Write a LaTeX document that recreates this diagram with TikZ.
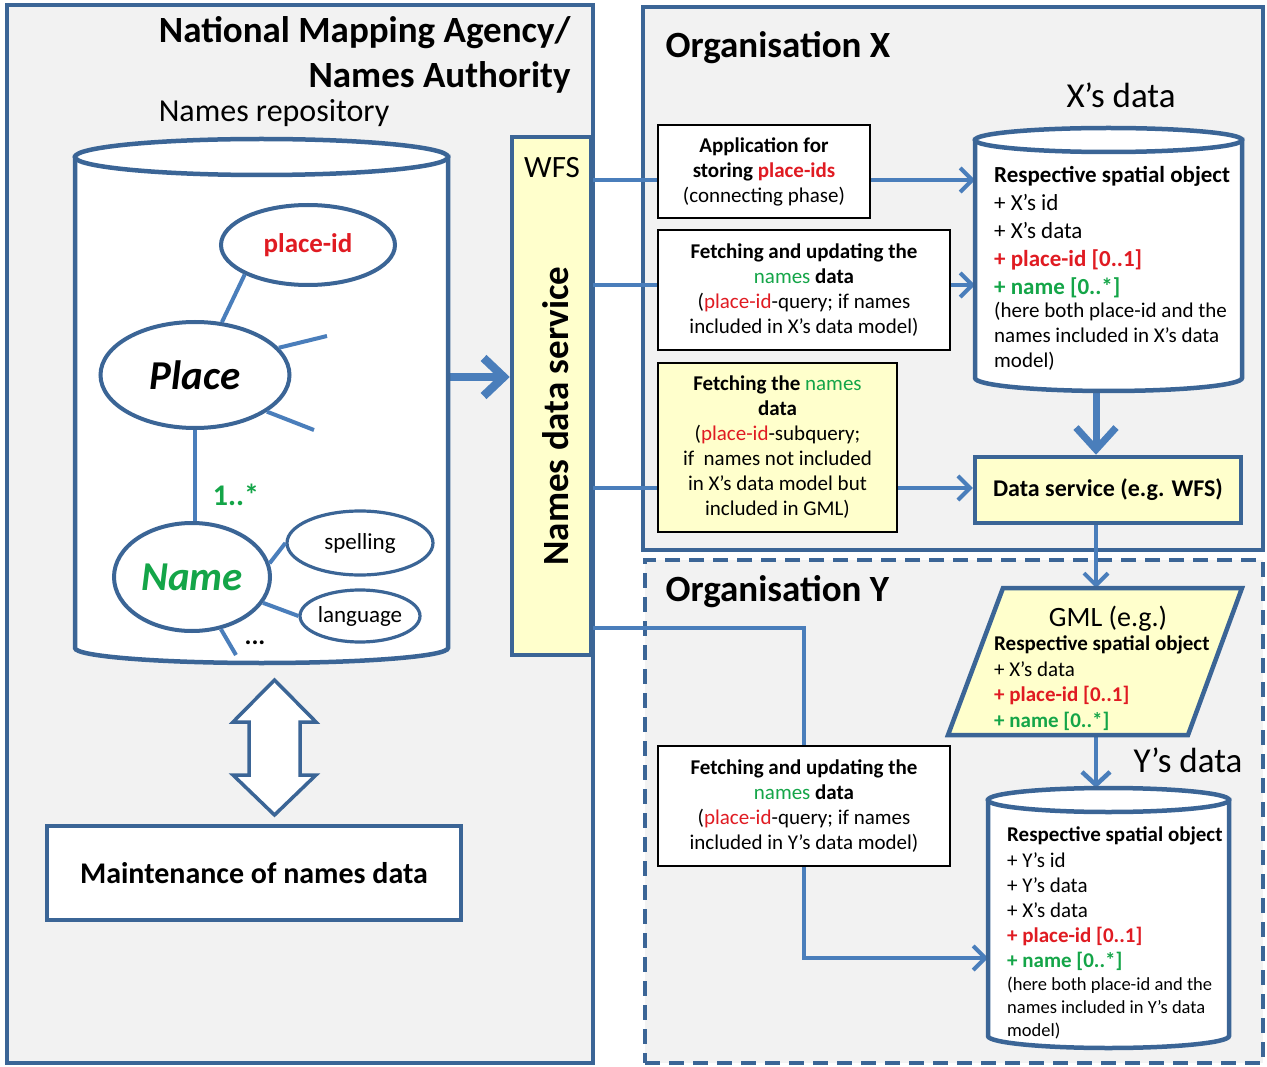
\documentclass[tikz,border=0pt]{standalone}
\usepackage{fontspec}
\setmainfont{Carlito}
\usetikzlibrary{shapes.geometric,arrows.meta,calc}
\definecolor{bord}{HTML}{3B6596}
\definecolor{conn}{HTML}{4A7EBB}
\definecolor{myred}{HTML}{E01B22}
\definecolor{mygreen}{HTML}{14A548}
\definecolor{myyellow}{HTML}{FFFFCC}
\definecolor{mygray}{HTML}{F2F2F2}
\pgfdeclarelayer{back}\pgfdeclarelayer{mid}
\pgfsetlayers{back,mid,main}
\newcommand\setfs[2]{\fontsize{#1}{#2}\selectfont}
\newcommand\mycyl[6]{%
  \pgfmathsetmacro\cxa{(#1+#2)/2}\pgfmathsetmacro\rxa{(#2-#1)/2}%
  \filldraw[cylst] (#1,#3) -- (#1,#5) arc[start angle=180,end angle=0,x radius=\rxa,y radius=#6] -- (#2,#3) -- cycle;
  \filldraw[cylst] (\cxa,#3) ellipse[x radius=\rxa, y radius=#4];
}
\begin{document}
\begin{tikzpicture}[x=1pt,y=-1pt,
  panel/.style={draw=bord,line width=4.5pt,fill=mygray,inner sep=0pt},
  inv/.style={inner sep=0pt,outer sep=0pt},
  cylst/.style={draw=bord,line width=4.5pt,fill=white},
  ell/.style={ellipse,draw=bord,line width=4pt,fill=white,inner sep=0pt},
  txtbox/.style={draw=black,line width=2.3pt,fill=white,align=center,inner sep=0pt,font=\setfs{21}{25}},
  bluebox/.style={draw=bord,line width=4.5pt,inner sep=0pt,align=center},
  link/.style={draw=conn,line width=4pt},
  arrow/.style={link,-{Straight Barb[length=12pt,width=24pt]}},
  midarrow/.style={draw=conn,line width=4.5pt,-{Straight Barb[length=13pt,width=28pt]}},
  bigarrow/.style={draw=conn,line width=7pt,-{Straight Barb[length=22pt,width=40pt]}},
  hugearrow/.style={draw=conn,line width=8.5pt,-{Straight Barb[length=20pt,width=38pt]}},
  ttl/.style={font=\setfs{37}{44}\bfseries}
]
\useasboundingbox (0,0) rectangle (1267,1067);

\begin{pgfonlayer}{back}
\node[panel,minimum width=586pt,minimum height=1058pt] (nma) at (300,534) {};
\node[panel,minimum width=620pt,minimum height=543pt] (orgx) at (953,278.5) {};
\node[panel,dash pattern=on 15pt off 9pt,minimum width=618pt,minimum height=503pt] (orgy) at (954,811.5) {};
\end{pgfonlayer}

% titles
\node[ttl,anchor=base east] (t1) at (574,43) {National Mapping Agency/};
\node[ttl,anchor=base east] (t2) at (574,88) {Names Authority};
\node[anchor=base,font=\setfs{32}{38}] (repolabel) at (274,122) {Names repository};
\node[ttl,anchor=base west] (tx) at (662,58) {Organisation X};
\node[ttl,anchor=base west] (ty) at (662,601) {Organisation Y};
\node[anchor=base,font=\setfs{35}{40}] (xlabel) at (1121,108) {X’s data};
\node[anchor=base,font=\setfs{35}{40}] (ylabel) at (1188,772) {Y’s data};

% names repository
\node[inv,minimum width=373pt,minimum height=506pt] (repo) at (261.5,410) {};
\mycyl{75}{448}{157}{18}{648}{15}
\node[ell,minimum width=174pt,minimum height=80pt,font=\setfs{27}{30}\bfseries,text=myred] (pid) at (308,245) {place-id};
\node[ell,minimum width=189pt,minimum height=106pt,font=\setfs{41}{46}\bfseries\itshape] (place) at (195,375) {Place};
\node[ell,minimum width=156pt,minimum height=108pt,font=\setfs{41}{46}\bfseries\itshape,text=mygreen] (name) at (192,577) {Name};
\node[ell,minimum width=146pt,minimum height=64pt,line width=3.2pt,font=\setfs{23}{26}] (spell) at (360,543) {spelling};
\node[ell,minimum width=120pt,minimum height=52pt,line width=3.2pt,font=\setfs{23}{26}] (lang) at (360,616) {language};
\node[font=\setfs{30}{34}\bfseries,text=mygreen] (mult) at (236,495) {1..*};
\node[font=\setfs{26}{28}\bfseries] (dots) at (255,643) {...};
\coordinate (sp1) at (327,336);
\coordinate (sp2) at (314,430);
\coordinate (sp3) at (236,655);
\draw[link] (pid.205) -- (place.63);
\draw[link] (place.18) -- (sp1);
\draw[link] (place.-27) -- (sp2);
\draw[link] (place.south) -- (place.south |- name.north);
\draw[link] (name.10) -- (spell.west);
\draw[link] (name.-20) -- (lang.west);
\draw[link] (name.-61) -- (sp3);

% names data service bar
\node[bluebox,fill=myyellow,minimum width=79pt,minimum height=518pt] (bar) at (551.5,396) {};
\node[anchor=base,font=\setfs{31}{36}] (wfs) at (552,178) {WFS};
\node[rotate=90,font=\setfs{37}{44}\bfseries] (nds) at (556,416) {Names data service};

% maintenance
\node[bluebox,fill=white,minimum width=414pt,minimum height=94pt,font=\setfs{30}{36}\bfseries] (maint) at (254,873) {Maintenance of names data};
\coordinate (dbl) at (274.5,747.5);
\filldraw[draw=bord,line width=3.5pt,fill=white,shift={(dbl)}] (0,-67.5) -- (41.5,-25.5) -- (25.5,-25.5) -- (25.5,27.5) -- (41.5,27.5) -- (0,67.5) -- (-41.5,27.5) -- (-25.5,27.5) -- (-25.5,-25.5) -- (-41.5,-25.5) -- cycle;

% organisation X
\node[txtbox,minimum width=212pt,minimum height=93pt] (boxA) at (764,171.5) {\textbf{Application for}\\\textbf{storing \textcolor{myred}{place-ids}}\\(connecting phase)};
\node[txtbox,minimum width=292pt,minimum height=120pt] (boxB) at (804,290) {\textbf{Fetching and updating the}\\\textcolor{mygreen}{names} \textbf{data}\\(\textcolor{myred}{place-id}-query; if names\\included in X’s data model)};
\node[txtbox,fill=myyellow,minimum width=239pt,minimum height=169pt] (boxC) at (777.5,447.5) {\textbf{Fetching the} \textcolor{mygreen}{names}\\\textbf{data}\\(\textcolor{myred}{place-id}-subquery;\\if\ \ names not included\\in X’s data model but\\included in GML)};

\node[inv,minimum width=267pt,minimum height=264pt] (xdata) at (1108.5,260) {};
\mycyl{975}{1242}{140}{12}{378}{13}
\node[anchor=north west,align=left,inner sep=0pt,font=\setfs{23}{28}] (xtx) at (994,166) {\textbf{Respective spatial object}\\+ X’s id\\+ X’s data\\\textcolor{myred}{\textbf{+ place-id [0..1]}}\\\textcolor{mygreen}{\textbf{+ name [0..*]}}};
\node[anchor=north west,align=left,inner sep=0pt,font=\setfs{21}{25}] (xnote) at (994,302) {(here both place-id and the\\names included in X’s data\\model)};

\node[bluebox,fill=myyellow,minimum width=266pt,minimum height=66pt,font=\setfs{24}{28}\bfseries] (dsvc) at (1108,490) {Data service (e.g. WFS)};

% organisation Y
\node[inv,minimum width=180pt,minimum height=147pt] (gml) at (1096,661.5) {};
\filldraw[draw=bord,line width=4.5pt,fill=myyellow] (1003,588) -- (1242,588) -- (1188,735) -- (948,735) -- cycle;
\node[anchor=base,font=\setfs{28}{32}] (gmlt) at (1108,626) {GML (e.g.)};
\node[anchor=north west,align=left,inner sep=0pt,font=\setfs{21}{25.5}] (gmltx) at (994,636) {\textbf{Respective spatial object}\\+ X’s data\\\textcolor{myred}{\textbf{+ place-id [0..1]}}\\\textcolor{mygreen}{\textbf{+ name [0..*]}}};

\node[txtbox,minimum width=292pt,minimum height=120pt] (boxY) at (804,806) {\textbf{Fetching and updating the}\\\textcolor{mygreen}{names} \textbf{data}\\(\textcolor{myred}{place-id}-query; if names\\included in Y’s data model)};

\node[inv,minimum width=241pt,minimum height=260pt] (ydata) at (1108.5,918) {};
\mycyl{988}{1229}{800}{12}{1036}{12}
\node[anchor=north west,align=left,inner sep=0pt,font=\setfs{21}{25.2}] (ytx) at (1007,827) {\textbf{Respective spatial object}\\+ Y’s id\\+ Y’s data\\+ X’s data\\\textcolor{myred}{\textbf{+ place-id [0..1]}}\\\textcolor{mygreen}{\textbf{+ name [0..*]}}};
\node[anchor=north west,align=left,inner sep=0pt,font=\setfs{18.5}{23}] (ynote) at (1007,977) {(here both place-id and the\\names included in Y’s data\\model)};

% connectors
\begin{pgfonlayer}{mid}
\coordinate (r1) at ([yshift=33pt]repo.east);
\draw[hugearrow] (r1) -- (r1 -| bar.west);
\coordinate (a1) at ([yshift=-8.5pt]boxA.west);
\coordinate (a2) at ([yshift=-8.5pt]boxA.east);
\draw[link] (a1 -| bar.east) -- (a1);
\draw[arrow] (a2) -- (a2 -| xdata.west);
\coordinate (b1) at ([yshift=5pt]boxB.west);
\coordinate (b2) at ([yshift=5pt]boxB.east);
\draw[link] (b1 -| bar.east) -- (b1);
\draw[arrow] (b2) -- (b2 -| xdata.west);
\coordinate (c1) at ([yshift=-40.5pt]boxC.west);
\coordinate (c2) at ([yshift=-40.5pt]boxC.east);
\draw[link] (c1 -| bar.east) -- (c1);
\draw[arrow] (c2) -- (c2 -| dsvc.west);
\coordinate (d1) at ([yshift=-232pt]bar.east);
\coordinate (d2) at ([yshift=-40pt]ydata.west);
\draw[arrow] (d1) -| (boxY.center |- d2) -- (d2);
\draw[bigarrow] (gml.north |- xdata.south) -- (gml.north |- dsvc.north);
\draw[arrow] (gml.north |- dsvc.south) -- (gml.north);
\draw[midarrow] (gml.south) -- (gml.south |- ydata.north);
\end{pgfonlayer}
\end{tikzpicture}
\end{document}
